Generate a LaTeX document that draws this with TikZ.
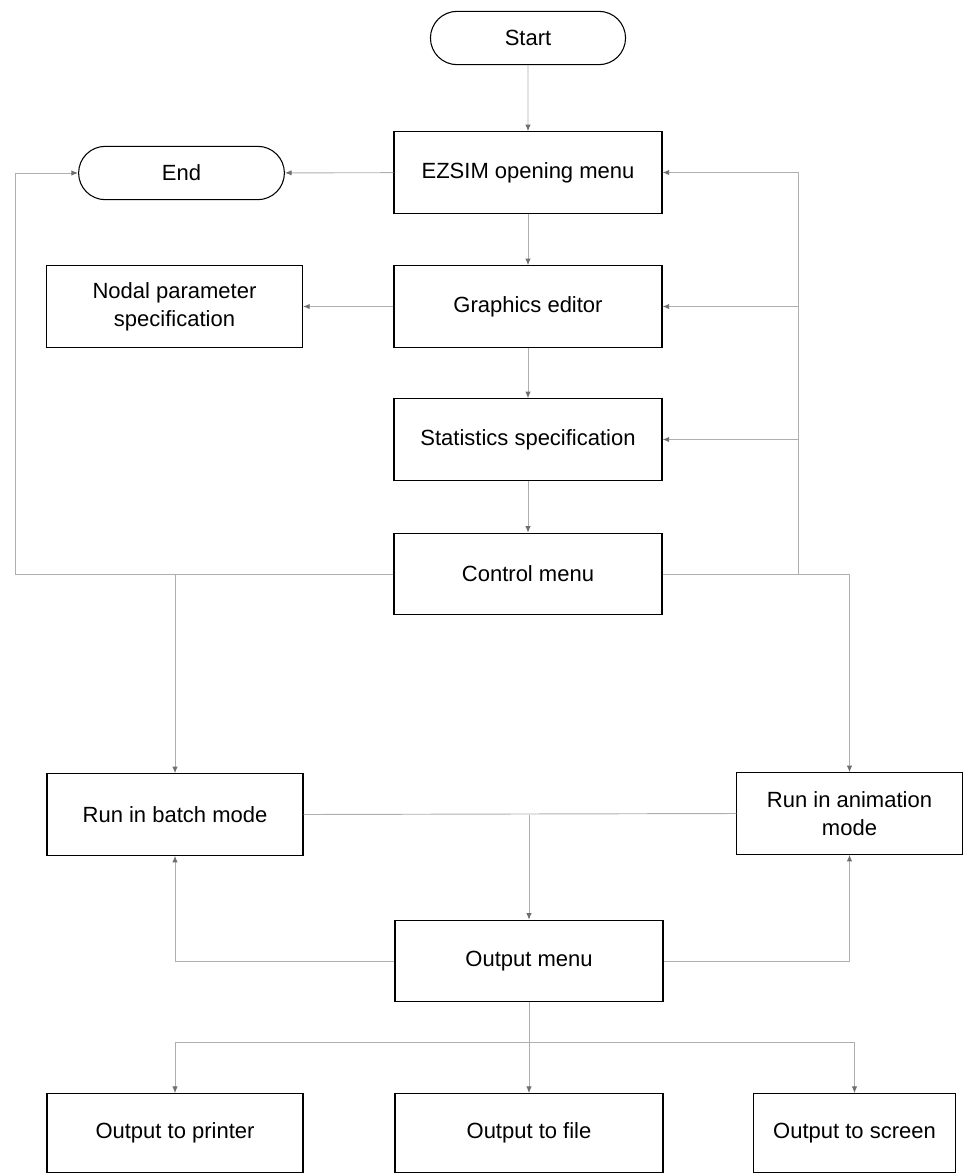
\documentclass[tikz,border=0pt]{standalone}
\usepackage{fontspec}
\setmainfont{Liberation Sans}
\usepackage{tikz}
\usetikzlibrary{arrows.meta,positioning,calc,shapes.misc}
\definecolor{wire}{RGB}{175,175,175}
\definecolor{tipcol}{RGB}{110,110,110}

\begin{document}
\begin{tikzpicture}[x=0.75pt,y=-0.75pt,
    font=\fontsize{16.5pt}{21pt}\selectfont,
    >={Latex[length=5pt,width=4pt,color=tipcol]},
    box/.style={draw=black,line width=0.8pt,rectangle,align=center,
                minimum width=201pt,minimum height=61pt,inner sep=2pt},
    sidebox/.style={box,minimum width=192pt},
    outbox/.style={minimum height=59pt},
    term/.style={draw=black,line width=0.8pt,rounded rectangle,
                 minimum width=153pt,minimum height=40pt},
    wire/.style={draw=wire,line width=0.7pt}]
  \useasboundingbox (0,0) rectangle (963,1175);

  % main column
  \node[term] (start) at (528,38) {Start};
  \node[box] (ezsim) at (528,172.5) {EZSIM opening menu};
  \node[term,minimum width=161pt] (end) at (181.5,173) {End};
  \node[box] (graphics) at (528,306.5) {Graphics editor};
  \node[sidebox] (nodal) at (174.5,306.5) {Nodal parameter\\specification};
  \node[box] (stats) at (528,439.5) {Statistics specification};
  \node[box] (control) at (528,574) {Control menu};

  % run modes
  \node[sidebox] (batch) at (175,814.5) {Run in batch mode};
  \node[box,minimum width=169pt] (anim) at (849.5,813.5) {Run in animation\\mode};
  \node[box] (outmenu) at (529,961) {Output menu};

  % outputs
  \node[sidebox,outbox] (printer) at (175,1133) {Output to printer};
  \node[box,outbox] (file) at (529,1133) {Output to file};
  \node[box,outbox,minimum width=151pt] (screen) at (854.5,1133) {Output to screen};

  \coordinate (lbus) at (15,574);
  \coordinate (rbus) at (798,574);
  \coordinate (obus) at (529,1042);

  \draw[wire,->] (start) -- (ezsim);
  \draw[wire,->] (ezsim) -- (end);
  \draw[wire,->] (ezsim) -- (graphics);
  \draw[wire,->] (graphics) -- (nodal);
  \draw[wire,->] (graphics) -- (stats);
  \draw[wire,->] (stats) -- (control);

  \draw[wire,->] (control.west) -- (lbus) |- (end.west);
  \draw[wire,->] (batch.north |- control.west) -- (batch.north);
  \draw[wire] (control.east) -- (rbus);
  \draw[wire,->] (rbus) |- (ezsim.east);
  \draw[wire,->] (rbus |- graphics.east) -- (graphics.east);
  \draw[wire,->] (rbus |- stats.east) -- (stats.east);
  \draw[wire,->] (rbus) -| (anim.north);

  \draw[wire] (batch.east) -- (anim.west);
  \draw[wire,->] (outmenu.north |- batch.east) -- (outmenu.north);
  \draw[wire,->] (outmenu.west) -| (batch.south);
  \draw[wire,->] (outmenu.east) -| (anim.south);

  \draw[wire] (outmenu.south) -- (obus);
  \draw[wire,->] (obus) -| (printer.north);
  \draw[wire,->] (obus) -- (file.north);
  \draw[wire,->] (obus) -| (screen.north);
\end{tikzpicture}
\end{document}
